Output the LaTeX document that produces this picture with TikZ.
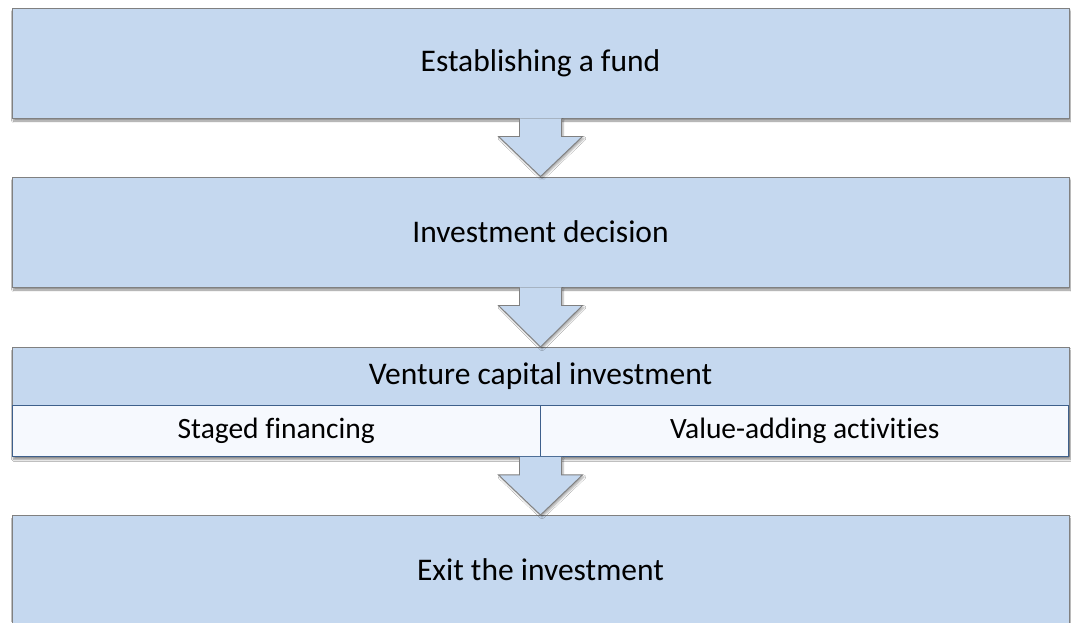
\documentclass[tikz,border=0pt]{standalone}
\usepackage{fontspec}
\setmainfont{Carlito}[Ligatures={NoCommon}]
\usetikzlibrary{calc,shadows.blur}
\definecolor{boxblue}{RGB}{197,216,239}
\definecolor{rowfill}{RGB}{246,249,254}
\definecolor{edgegrey}{RGB}{128,128,128}
\definecolor{edgeblue}{RGB}{62,96,140}
\tikzset{
  stage/.style={draw=edgegrey, line width=0.9pt, fill=boxblue, inner sep=0pt,
    minimum width=1057pt, font=\fontsize{31.5}{36}\selectfont,
    blur shadow={shadow xshift=1.5pt, shadow yshift=-3pt, shadow blur steps=6, shadow opacity=45}},
  subrow/.style={draw=edgeblue, line width=1pt, fill=rowfill, inner sep=0pt,
    minimum width=528.5pt, minimum height=51pt, font=\fontsize{29.5}{34}\selectfont},
  flowarrow/.style={fill=boxblue, draw=none},
  flowedge/.style={draw=edgegrey, line width=0.9pt, line join=miter}
}
\newcommand{\blockarrow}[2]{%
  % shaft from the lower edge of #1, head tip on the upper edge of #2
  \fill[flowarrow, blur shadow={shadow xshift=1.5pt, shadow yshift=-2pt, shadow blur steps=5, shadow opacity=35}]
    ($(#1.south)+(-21,0)$) -- ($(#1.south)+(-21,18)$) -- ($(#1.south)+(-42,18)$)
    -- (#2.north) -- ($(#1.south)+(42,18)$) -- ($(#1.south)+(21,18)$) -- ($(#1.south)+(21,0)$) -- cycle;
  \draw[flowedge]
    ($(#1.south)+(-21,0)$) -- ($(#1.south)+(-21,18)$) -- ($(#1.south)+(-42,18)$)
    -- (#2.north) -- ($(#1.south)+(42,18)$) -- ($(#1.south)+(21,18)$) -- ($(#1.south)+(21,0)$);
}
\begin{document}
\begin{tikzpicture}[x=1pt, y=-1pt]
  \useasboundingbox[fill=white] (0,0) rectangle (1071,622);

  % four stages
  \node[stage, minimum height=110pt] (fund) at (540.5,63) {Establishing a fund};
  \node[stage, minimum height=110pt] (decision) at (540.5,232) {Investment decision};
  \node[stage, minimum height=109pt, anchor=north] (vcbox) at (540.5,347) {};
  \node[stage, minimum height=112pt, anchor=north] (exit) at (540.5,515) {};
  \node[font=\fontsize{31.5}{36}\selectfont] (exitlabel) at (540.5,570) {Exit the investment};

  % third stage: heading and two sub-rows
  \node[draw=edgegrey, line width=0.9pt, fill=boxblue, inner sep=0pt, minimum width=1057pt,
        minimum height=58pt, anchor=north, font=\fontsize{31.5}{36}\selectfont]
        (vchead) at (vcbox.north) {Venture capital investment};
  \node[subrow, anchor=north west] (staged) at (vcbox.west |- 0,405) {Staged financing};
  \node[subrow, anchor=north east] (valueadd) at (vcbox.east |- 0,405) {Value-adding activities};

  % arrows between stages
  \blockarrow{fund}{decision}
  \blockarrow{decision}{vcbox}
  \blockarrow{vcbox}{exit}
\end{tikzpicture}
\end{document}
